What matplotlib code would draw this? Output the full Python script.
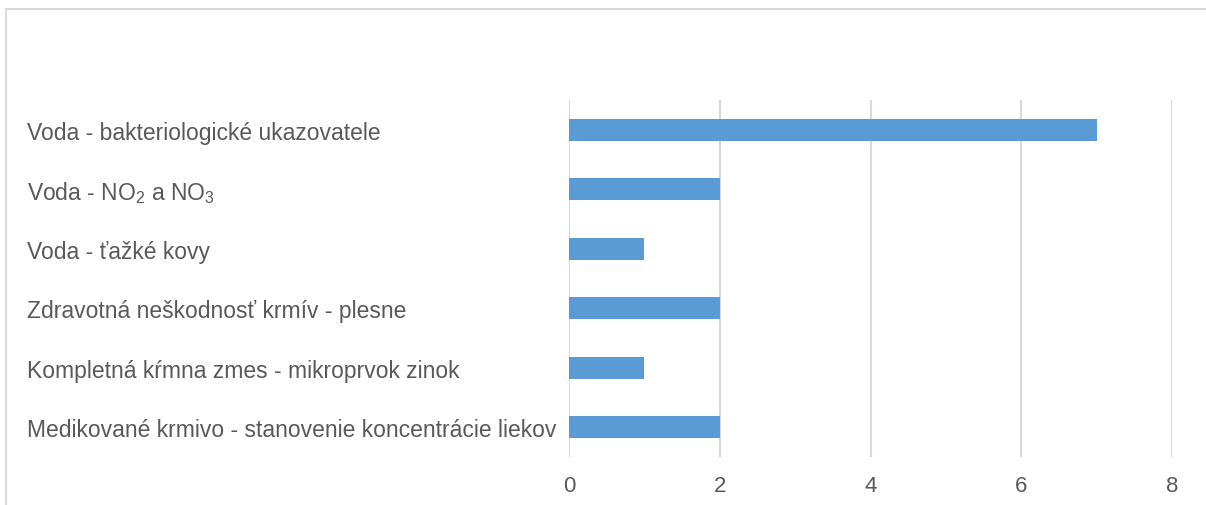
import matplotlib
matplotlib.use("Agg")
import matplotlib.pyplot as plt
from matplotlib import font_manager
from matplotlib.patches import Rectangle

names = {f.name for f in font_manager.fontManager.ttflist}
fam = "Liberation Sans Narrow" if "Liberation Sans Narrow" in names else "Liberation Sans"

categories = [
    "Voda - bakteriologické ukazovatele",
    "Voda - NO$_2$ a NO$_3$",
    "Voda - ťažké kovy",
    "Zdravotná neškodnosť krmív - plesne",
    "Kompletná kŕmna zmes - mikroprvok zinok",
    "Medikované krmivo - stanovenie koncentrácie liekov",
]
values = [7, 2, 1, 2, 1, 2]
xticks = [0, 2, 4, 6, 8]

plt.rcParams['font.family'] = [fam, 'DejaVu Sans']
plt.rcParams['mathtext.fontset'] = 'custom'
plt.rcParams['mathtext.rm'] = fam
plt.rcParams['mathtext.it'] = fam
plt.rcParams['mathtext.default'] = 'rm'

W, H = 1206, 506
fig = plt.figure(figsize=(W/100, H/100), dpi=100)
fig.patches.append(Rectangle((6/W, -0.1), 1.2, 1 - 10/H + 0.1, transform=fig.transFigure,
                             fill=False, edgecolor='#d9d9d9', linewidth=1.5))
ax = fig.add_axes([569/W, 1 - 458/H, (1172-569)/W, (458-101)/H])
n = len(categories)
ypos = list(range(n))[::-1]
ax.barh(ypos, values, height=0.37, color='#5b9bd5', zorder=3)
ax.set_ylim(-0.5, n - 0.5)
ax.set_xlim(0, 8)
ax.set_xticks(xticks)
ax.set_yticks(ypos)
ax.set_yticklabels(categories, ha='left')
ax.grid(axis='x', color='#d9d9d9', linewidth=1.5, zorder=0)
for s in ax.spines.values():
    s.set_visible(False)
ax.tick_params(axis='both', length=0, colors='#595959')
ax.tick_params(axis='x', labelsize=16, pad=13)
ax.tick_params(axis='y', labelsize=16.5, pad=(569 - 27) * 0.72)
for lbl in ax.get_yticklabels() + ax.get_xticklabels():
    lbl.set_color('#595959')
fig.savefig("out.png", dpi=100)
